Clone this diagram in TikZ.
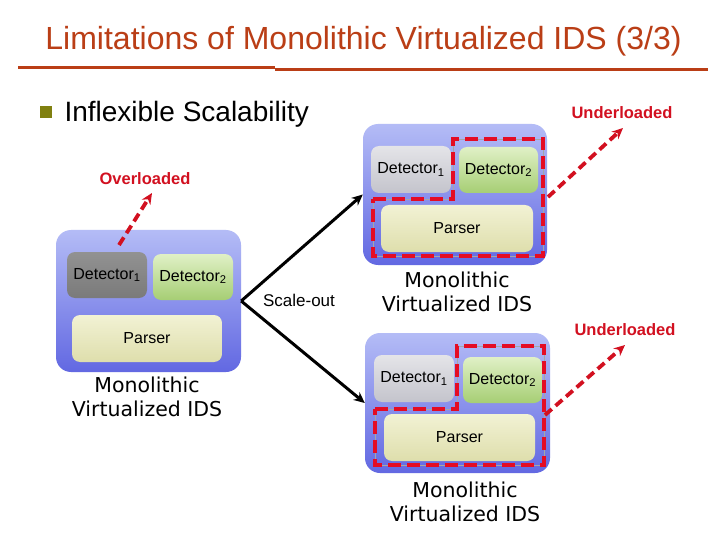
\documentclass[tikz,border=0pt]{standalone}
\usepackage{fontspec}
\setmainfont{Liberation Sans}
\newfontfamily\idsfont{DejaVu Sans}
\usepackage{tikz}
\usetikzlibrary{arrows.meta}

\definecolor{titleRed}{RGB}{186,62,22}
\definecolor{loadRed}{RGB}{210,16,32}
\definecolor{spareRed}{RGB}{228,12,36}
\definecolor{bulletOlive}{RGB}{128,128,16}
\definecolor{idsTop}{RGB}{180,188,246}
\definecolor{idsBot}{RGB}{98,104,226}
\definecolor{busyTop}{RGB}{146,146,146}
\definecolor{busyBot}{RGB}{122,122,122}
\definecolor{idleTop}{RGB}{228,228,232}
\definecolor{idleBot}{RGB}{196,196,204}
\definecolor{detTop}{RGB}{224,240,198}
\definecolor{detBot}{RGB}{166,206,116}
\definecolor{parTop}{RGB}{242,242,212}
\definecolor{parBot}{RGB}{222,222,172}

\begin{document}
\begin{tikzpicture}[
    x=1pt,
    y=-1pt,
    >=Stealth,
    ids/.style={
        rounded corners=15pt,
        top color=idsTop,
        bottom color=idsBot,
        inner sep=0pt
    },
    part/.style={
        rounded corners=8pt,
        inner sep=0pt,
        font=\fontsize{16}{18}\selectfont
    },
    busydet/.style={part, top color=busyTop, bottom color=busyBot},
    idledet/.style={part, top color=idleTop, bottom color=idleBot},
    greendet/.style={part, top color=detTop, bottom color=detBot},
    parserbox/.style={part, top color=parTop, bottom color=parBot},
    idslabel/.style={
        align=center,
        font=\idsfont\fontsize{20.5}{24}\selectfont
    },
    loadlabel/.style={
        text=loadRed,
        font=\bfseries\fontsize{16.5}{20}\selectfont
    },
    loadarrow/.style={
        loadRed,
        line width=3.8pt,
        dash pattern=on 9pt off 5pt,
        -{Stealth[length=11pt,width=10pt]}
    },
    spare/.style={
        spareRed,
        line width=4pt,
        dash pattern=on 13pt off 6pt
    },
    scalearrow/.style={
        line width=3pt,
        -{Stealth[length=11pt,width=10pt]}
    }
]

    % Fons
    \useasboundingbox[fill=white] (0,0) rectangle (720,540);

    % Titol
    \node[anchor=base, text=titleRed, font=\fontsize{32}{36}\selectfont]
        (title) at (363.5,50) {Limitations of Monolithic Virtualized IDS (3/3)};
    \draw[titleRed, line width=3pt] (18,67.5) -- (275,67.5);
    \draw[titleRed, line width=3pt] (275,69.5) -- (708,69.5);

    % Vinyeta
    \fill[bulletOlive] (40,106) rectangle (52,118);
    \node[anchor=base west, font=\fontsize{28}{32}\selectfont]
        (bullet) at (61,122) {Inflexible Scalability};

    % IDS esquerre
    \node[ids, minimum width=185pt, minimum height=142pt] (lbox) at (148.5,301) {};
    \node[busydet, minimum width=80pt, minimum height=46pt] (ldet1) at (107,275) {Detector\textsubscript{1}};
    \node[greendet, minimum width=80pt, minimum height=46pt] (ldet2) at (193,277) {Detector\textsubscript{2}};
    \node[parserbox, minimum width=150pt, minimum height=47pt] (lpar) at (147,338.5) {Parser};
    \node[idslabel] (llabel) at (147,397) {Monolithic\\Virtualized IDS};

    % IDS de dalt
    \node[ids, minimum width=184pt, minimum height=141pt] (tbox) at (455,194.5) {};
    \node[idledet, minimum width=80pt, minimum height=47pt] (tdet1) at (411,169.5) {Detector\textsubscript{1}};
    \node[greendet, minimum width=79pt, minimum height=46pt] (tdet2) at (498.5,170) {Detector\textsubscript{2}};
    \node[parserbox, minimum width=152pt, minimum height=47pt] (tpar) at (457,228.5) {Parser};
    \node[idslabel] (tlabel) at (457,291.5) {Monolithic\\Virtualized IDS};

    % IDS de baix
    \node[ids, minimum width=185pt, minimum height=140pt] (bbox) at (457.5,403) {};
    \node[idledet, minimum width=80pt, minimum height=47pt] (bdet1) at (414,378.5) {Detector\textsubscript{1}};
    \node[greendet, minimum width=79pt, minimum height=46pt] (bdet2) at (502.5,380) {Detector\textsubscript{2}};
    \node[parserbox, minimum width=151pt, minimum height=47pt] (bpar) at (459.5,437.5) {Parser};
    \node[idslabel] (blabel) at (465,502) {Monolithic\\Virtualized IDS};

    % Capacitat sobrant
    \draw[gray!70, line width=0.8pt] (373,199) -- (453,199) -- (453,139) -- (543,139) -- (543,256) -- (373,256) -- cycle;
    \draw[spare] (373,199) -- (453,199) -- (453,139) -- (543,139) -- (543,256) -- (373,256) -- cycle;
    \draw[gray!70, line width=0.8pt] (375,409) -- (457,409) -- (457,346) -- (544,346) -- (544,465) -- (375,465) -- cycle;
    \draw[spare] (375,409) -- (457,409) -- (457,346) -- (544,346) -- (544,465) -- (375,465) -- cycle;

    % Scale-out
    \draw[scalearrow] (lbox.east) -- (tbox.west);
    \draw[scalearrow] (lbox.east) -- (bbox.west);
    \node[font=\fontsize{17}{20}\selectfont] (scale) at (299,300) {Scale-out};

    % Carrega
    \node[loadlabel] (ovl) at (145,179) {Overloaded};
    \node[loadlabel] (ul1) at (622,113) {Underloaded};
    \node[loadlabel] (ul2) at (625,330) {Underloaded};

    \coordinate (ovlfrom) at (119,245);
    \coordinate (ovlto) at (152,193);
    \coordinate (ul1from) at (548,197);
    \coordinate (ul1to) at (623,128);
    \coordinate (ul2from) at (545,415);
    \coordinate (ul2to) at (625,345);

    \draw[loadarrow] (ovlfrom) -- (ovlto);
    \draw[loadarrow] (ul1from) -- (ul1to);
    \draw[loadarrow] (ul2from) -- (ul2to);

\end{tikzpicture}
\end{document}
